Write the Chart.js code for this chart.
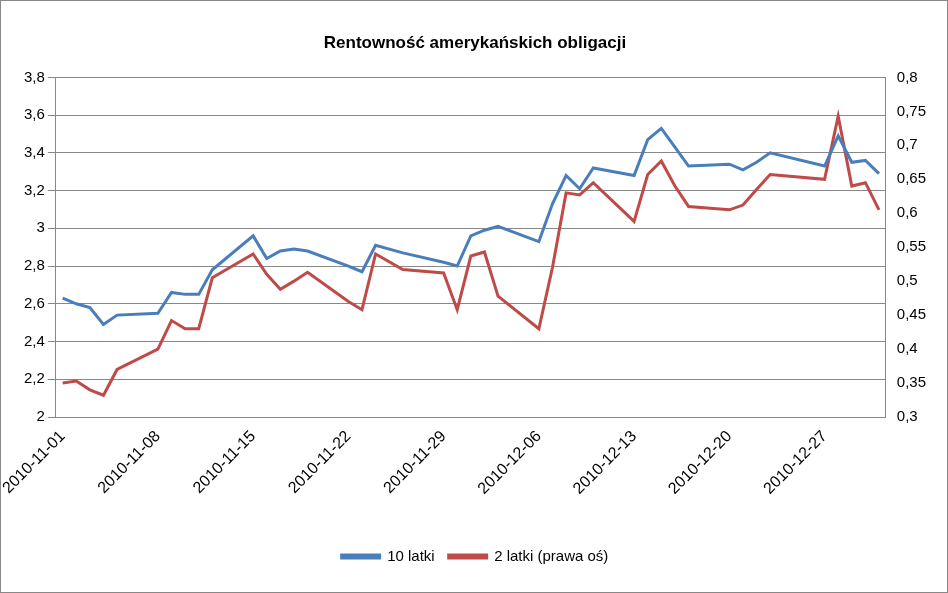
<!DOCTYPE html>
<html>
<head>
<meta charset="utf-8">
<script src="https://cdn.jsdelivr.net/npm/chart.js@4"></script>
<style>
  html, body { margin: 0; padding: 0; background: #fff; }
  #wrap { width: 946px; height: 591px; border: 1px solid #888; position: relative; }
</style>
</head>
<body>
<div id="wrap"><canvas id="c" width="946" height="591"></canvas></div>
<script>
// business days with data, Nov-Dec 2010
const dates = [
  "2010-11-01","2010-11-02","2010-11-03","2010-11-04","2010-11-05",
  "2010-11-08","2010-11-09","2010-11-10","2010-11-11","2010-11-12",
  "2010-11-15","2010-11-16","2010-11-17","2010-11-18","2010-11-19",
  "2010-11-22","2010-11-23","2010-11-24","2010-11-26",
  "2010-11-29","2010-11-30","2010-12-01","2010-12-02","2010-12-03",
  "2010-12-06","2010-12-07","2010-12-08","2010-12-09","2010-12-10",
  "2010-12-13","2010-12-14","2010-12-15","2010-12-16","2010-12-17",
  "2010-12-20","2010-12-21","2010-12-22","2010-12-23",
  "2010-12-27","2010-12-28","2010-12-29","2010-12-30","2010-12-31"
];
const tenYear = [
  2.63, 2.60, 2.58, 2.49, 2.54,
  2.55, 2.66, 2.65, 2.65, 2.78,
  2.96, 2.84, 2.88, 2.89, 2.88,
  2.80, 2.77, 2.91, 2.87,
  2.82, 2.80, 2.96, 2.99, 3.01,
  2.93, 3.13, 3.28, 3.21, 3.32,
  3.28, 3.47, 3.53, 3.43, 3.33,
  3.34, 3.31, 3.35, 3.40,
  3.33, 3.49, 3.35, 3.36, 3.29
];
const twoYear = [
  0.350, 0.353, 0.340, 0.332, 0.370,
  0.400, 0.442, 0.430, 0.430, 0.505,
  0.540, 0.510, 0.488, 0.500, 0.513,
  0.470, 0.458, 0.540, 0.517,
  0.512, 0.458, 0.537, 0.543, 0.478,
  0.430, 0.520, 0.630, 0.627, 0.645,
  0.588, 0.657, 0.677, 0.640, 0.610,
  0.605, 0.612, 0.635, 0.657,
  0.650, 0.743, 0.640, 0.645, 0.605
];
const tickDates = ["2010-11-01","2010-11-08","2010-11-15","2010-11-22","2010-11-29","2010-12-06","2010-12-13","2010-12-20","2010-12-27"];

// full calendar of days so spacing follows the dates
const days = [];
for (let d = new Date(Date.UTC(2010, 10, 1)); d <= new Date(Date.UTC(2010, 11, 31)); d.setUTCDate(d.getUTCDate() + 1)) {
  days.push(d.toISOString().slice(0, 10));
}
const pick = arr => days.map(day => { const i = dates.indexOf(day); return i < 0 ? null : arr[i]; });

Chart.defaults.font.family = "'Liberation Sans', Arial, sans-serif";
Chart.defaults.color = "#000";

new Chart(document.getElementById("c"), {
  type: "line",
  data: {
    labels: days,
    datasets: [
      { label: "10 latki", data: pick(tenYear), yAxisID: "y", borderColor: "#4a7ebb", borderWidth: 3, pointRadius: 0, spanGaps: true, tension: 0 },
      { label: "2 latki (prawa oś)", data: pick(twoYear), yAxisID: "y1", borderColor: "#be4b48", borderWidth: 3, pointRadius: 0, spanGaps: true, tension: 0 }
    ]
  },
  options: {
    responsive: false,
    animation: false,
    layout: { padding: { left: 20, right: 18, top: 10, bottom: 18 } },
    plugins: {
      title: { display: true, text: "Rentowność amerykańskich obligacji", font: { size: 17, weight: "bold" }, color: "#000", padding: { top: 22, bottom: 24 } },
      legend: { position: "bottom", labels: { boxWidth: 38, boxHeight: 3, font: { size: 15 }, padding: 14 } }
    },
    scales: {
      x: {
        offset: true,
        grid: { display: false },
        border: { color: "#888" },
        ticks: {
          autoSkip: false, maxRotation: 45, minRotation: 45, font: { size: 16 }, padding: 2,
          callback: function (v) { const l = this.getLabelForValue(v); return tickDates.includes(l) ? l : null; }
        },
        afterFit: s => { s.height = 118; }
      },
      y: {
        min: 2, max: 3.8,
        ticks: { stepSize: 0.2, font: { size: 15 }, callback: v => String(+v.toFixed(1)).replace(".", ",") },
        grid: { color: "#888" },
        border: { color: "#888" }
      },
      y1: {
        position: "right", min: 0.3, max: 0.8,
        ticks: { stepSize: 0.05, font: { size: 15 }, callback: v => String(+v.toFixed(2)).replace(".", ",") },
        grid: { display: false },
        border: { color: "#888" }
      }
    }
  }
});
</script>
</body>
</html>
